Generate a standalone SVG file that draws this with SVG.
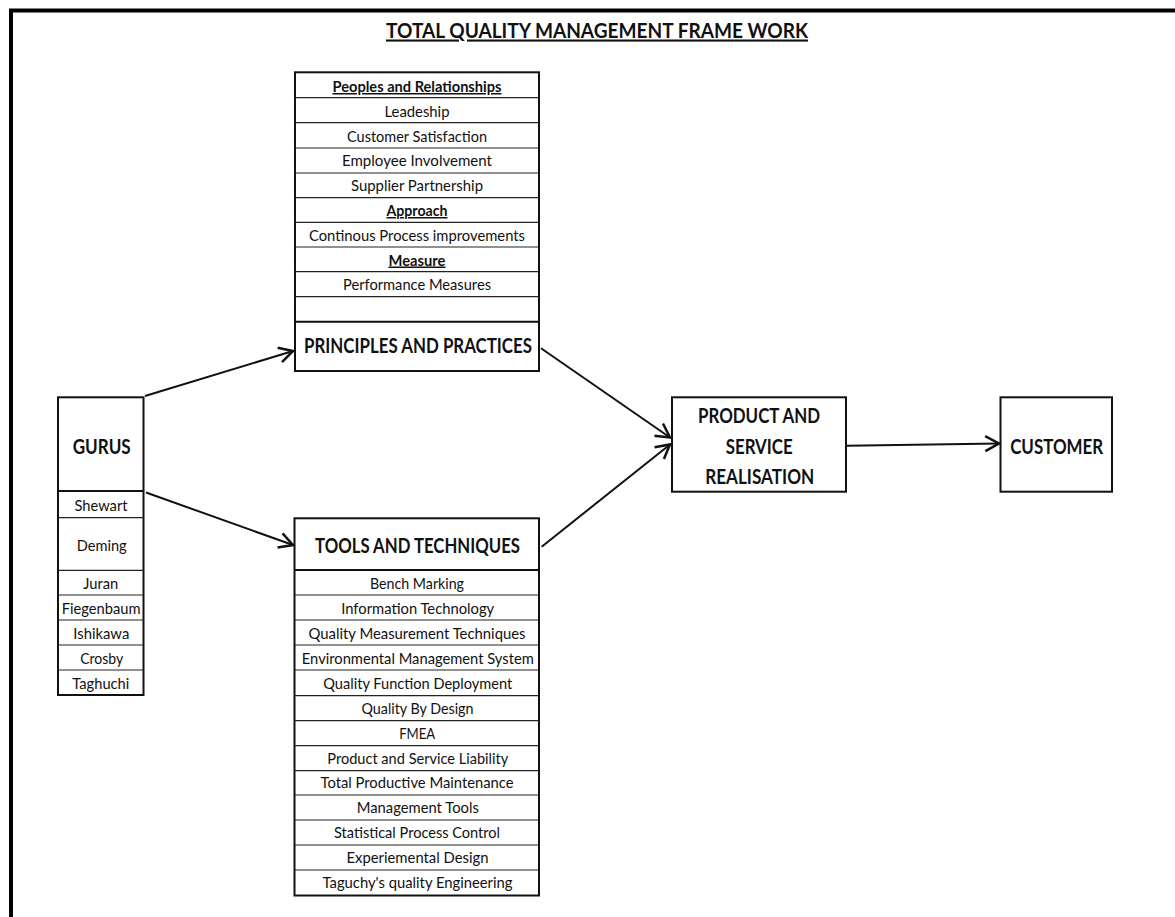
<svg xmlns="http://www.w3.org/2000/svg" width="1175" height="917" viewBox="0 0 1175 917">
<style>
.box{fill:#fff;stroke:#111;stroke-width:2}
.row{stroke:#222;stroke-width:1.2;fill:none}
.t{font-family:Lato,"Open Sans","Liberation Sans",sans-serif;font-size:15px;fill:#111;text-anchor:middle}
.h{font-family:Lato,"Open Sans","Liberation Sans",sans-serif;font-size:20px;font-weight:bold;fill:#111;text-anchor:middle}
.b{font-weight:bold;text-decoration:underline}
.c{stroke:#111;stroke-width:2;fill:none;marker-end:url(#ah)}
</style>
<defs>
<marker id="ah" markerUnits="userSpaceOnUse" markerWidth="20" markerHeight="20" viewBox="-12 -8 14 16" refX="0" refY="0" orient="auto">
<path d="M-11,-6 L0,0 L-11,6" fill="none" stroke="#111" stroke-width="2"/>
</marker>
</defs>
<rect x="0" y="0" width="1175" height="917" fill="#fff"/>
<path d="M11,917 L11,10.5 L1175,10.5" fill="none" stroke="#000" stroke-width="4"/>
<text x="597" y="37.5" class="h" style="font-size:21px;text-decoration:underline" textLength="422" lengthAdjust="spacingAndGlyphs">TOTAL QUALITY MANAGEMENT FRAME WORK</text>

<g id="principles">
<rect class="box" x="295" y="72.3" width="244" height="298.7"/>
<path class="row" d="M295,97.7H539M295,122.7H539M295,148H539M295,173H539M295,197.7H539M295,222.3H539M295,247H539M295,271.7H539M295,296.7H539"/>
<path d="M295,321.7H539" stroke="#111" stroke-width="2"/>
<text class="t b" x="417" y="92" textLength="169" lengthAdjust="spacingAndGlyphs">Peoples and Relationships</text>
<text class="t" x="417" y="117" textLength="65" lengthAdjust="spacingAndGlyphs">Leadeship</text>
<text class="t" x="417" y="141.5" textLength="140" lengthAdjust="spacingAndGlyphs">Customer Satisfaction</text>
<text class="t" x="417" y="166" textLength="150" lengthAdjust="spacingAndGlyphs">Employee Involvement</text>
<text class="t" x="417" y="191" textLength="132" lengthAdjust="spacingAndGlyphs">Supplier Partnership</text>
<text class="t b" x="417" y="216" textLength="61" lengthAdjust="spacingAndGlyphs">Approach</text>
<text class="t" x="417" y="240.5" textLength="216" lengthAdjust="spacingAndGlyphs">Continous Process improvements</text>
<text class="t b" x="417" y="265.5" textLength="57" lengthAdjust="spacingAndGlyphs">Measure</text>
<text class="t" x="417" y="290" textLength="148" lengthAdjust="spacingAndGlyphs">Performance Measures</text>
<text class="h" x="418" y="352.7" textLength="228" lengthAdjust="spacingAndGlyphs">PRINCIPLES AND PRACTICES</text>
</g>

<g id="gurus">
<rect class="box" x="58" y="397.3" width="85.5" height="297.7"/>
<path d="M58,491H143.5" stroke="#111" stroke-width="2"/>
<path class="row" d="M58,517.7H143.5M58,570.3H143.5M58,595H143.5M58,620H143.5M58,645H143.5M58,670H143.5"/>
<text class="h" x="101.7" y="454" textLength="58" lengthAdjust="spacingAndGlyphs">GURUS</text>
<text class="t" x="101" y="511" textLength="53" lengthAdjust="spacingAndGlyphs">Shewart</text>
<text class="t" x="101.7" y="551" textLength="50" lengthAdjust="spacingAndGlyphs">Deming</text>
<text class="t" x="100.8" y="589" textLength="35" lengthAdjust="spacingAndGlyphs">Juran</text>
<text class="t" x="101.2" y="613.5" textLength="79" lengthAdjust="spacingAndGlyphs">Fiegenbaum</text>
<text class="t" x="101.3" y="638.5" textLength="56" lengthAdjust="spacingAndGlyphs">Ishikawa</text>
<text class="t" x="101.7" y="663.5" textLength="43" lengthAdjust="spacingAndGlyphs">Crosby</text>
<text class="t" x="100.8" y="688.5" textLength="57" lengthAdjust="spacingAndGlyphs">Taghuchi</text>
</g>

<g id="tools">
<rect class="box" x="294.5" y="518.3" width="244.5" height="377.2"/>
<path d="M294.5,570H539" stroke="#111" stroke-width="2"/>
<path class="row" d="M294.5,595H539M294.5,620H539M294.5,645H539M294.5,670H539M294.5,695.7H539M294.5,720.7H539M294.5,745.7H539M294.5,770.7H539M294.5,795H539M294.5,820H539M294.5,845H539M294.5,870H539"/>
<text class="h" x="417.5" y="552.7" textLength="205" lengthAdjust="spacingAndGlyphs">TOOLS AND TECHNIQUES</text>
<text class="t" x="417" y="588.5" textLength="94" lengthAdjust="spacingAndGlyphs">Bench Marking</text>
<text class="t" x="417.7" y="613.5" textLength="153" lengthAdjust="spacingAndGlyphs">Information Technology</text>
<text class="t" x="417" y="638.5" textLength="217" lengthAdjust="spacingAndGlyphs">Quality Measurement Techniques</text>
<text class="t" x="417.8" y="663.5" textLength="232" lengthAdjust="spacingAndGlyphs">Environmental Management System</text>
<text class="t" x="417.8" y="688.5" textLength="189" lengthAdjust="spacingAndGlyphs">Quality Function Deployment</text>
<text class="t" x="417.5" y="714" textLength="112" lengthAdjust="spacingAndGlyphs">Quality By Design</text>
<text class="t" x="417.2" y="738.5" textLength="36" lengthAdjust="spacingAndGlyphs">FMEA</text>
<text class="t" x="417.8" y="763.5" textLength="181" lengthAdjust="spacingAndGlyphs">Product and Service Liability</text>
<text class="t" x="417" y="788" textLength="193" lengthAdjust="spacingAndGlyphs">Total Productive Maintenance</text>
<text class="t" x="417.8" y="813" textLength="122" lengthAdjust="spacingAndGlyphs">Management Tools</text>
<text class="t" x="417" y="837.5" textLength="166" lengthAdjust="spacingAndGlyphs">Statistical Process Control</text>
<text class="t" x="417.5" y="862.5" textLength="142" lengthAdjust="spacingAndGlyphs">Experiemental Design</text>
<text class="t" x="417.5" y="887.5" textLength="190" lengthAdjust="spacingAndGlyphs">Taguchy's quality Engineering</text>
</g>

<g id="product">
<rect class="box" x="672" y="397.3" width="174" height="94.4"/>
<text class="h" x="759" y="423" textLength="122" lengthAdjust="spacingAndGlyphs">PRODUCT AND</text>
<text class="h" x="759.2" y="453.5" textLength="67" lengthAdjust="spacingAndGlyphs">SERVICE</text>
<text class="h" x="759.7" y="484" textLength="109" lengthAdjust="spacingAndGlyphs">REALISATION</text>
</g>

<g id="customer">
<rect class="box" x="1000.5" y="397.3" width="111.5" height="94.4"/>
<text class="h" x="1056.7" y="453.5" textLength="93" lengthAdjust="spacingAndGlyphs">CUSTOMER</text>
</g>

<g id="connectors">
<line class="c" x1="145" y1="396" x2="293" y2="351"/>
<line class="c" x1="146" y1="492.5" x2="293" y2="545"/>
<line class="c" x1="541" y1="348.3" x2="670" y2="437.5"/>
<line class="c" x1="541.7" y1="546.7" x2="670" y2="444.5"/>
<line class="c" x1="846.7" y1="445.7" x2="999" y2="443.5"/>
</g>
</svg>
